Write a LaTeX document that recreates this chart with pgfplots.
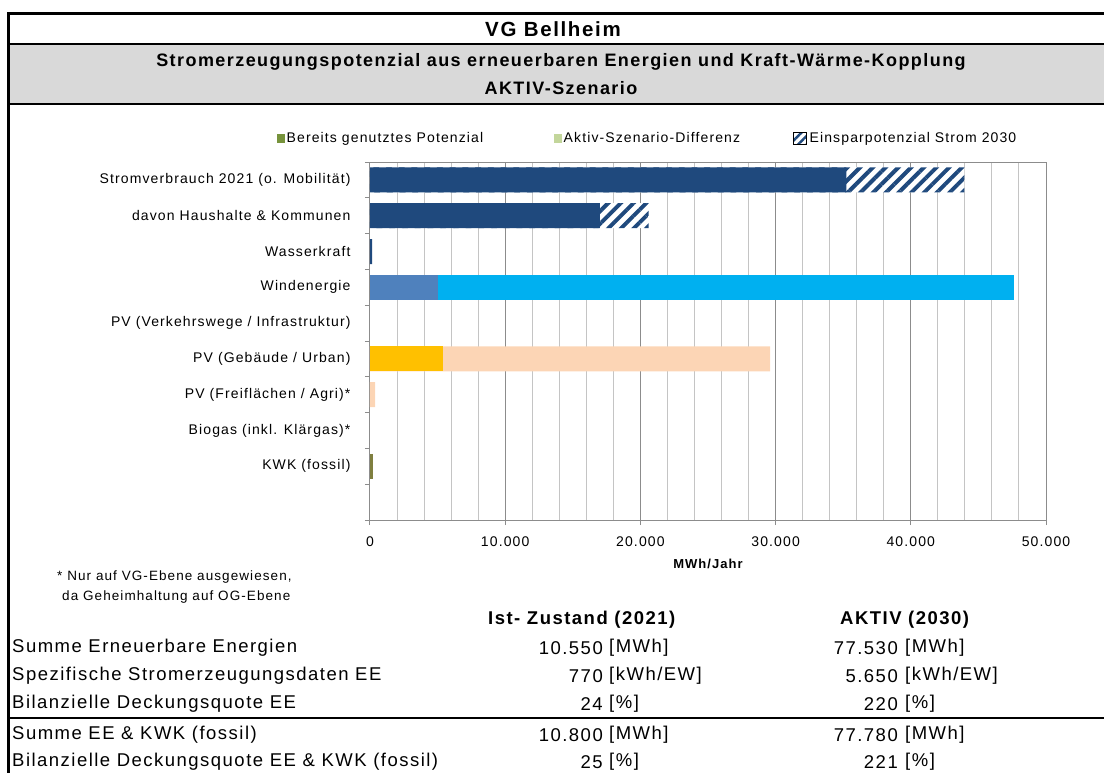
\documentclass[border=0pt]{standalone}
\usepackage{fontspec}
\setmainfont{Liberation Sans}[LetterSpace=8]
\usepackage{pgfplots}
\pgfplotsset{compat=1.18}
\usetikzlibrary{patterns.meta}

\definecolor{strom}{HTML}{1F497D}
\definecolor{windalt}{HTML}{4F81BD}
\definecolor{windneu}{HTML}{00B0F0}
\definecolor{pvalt}{HTML}{FFC000}
\definecolor{pvneu}{HTML}{FCD5B5}
\definecolor{kwk}{HTML}{7F7F3F}
\definecolor{legdunkel}{HTML}{77933C}
\definecolor{leghell}{HTML}{C3D69B}
\definecolor{kopf}{HTML}{D9D9D9}
\definecolor{axgray}{HTML}{8C8C8C}
\definecolor{gridgray}{HTML}{C4C4C4}

\newcommand\fs[1]{\fontsize{#1}{#1}\selectfont}

\begin{document}
\begin{tikzpicture}
\path[use as bounding box] (0,0) rectangle (1104pt,-773pt);

% Rahmen, Kopf und Tabelle (1pt = 1px)
\begin{scope}[x=1pt,y=-1pt]
  \fill[kopf] (8,44) rectangle (1104,104);
  \draw[line width=3pt] (1104,14) -- (8,14) -- (8,773);
  \draw[line width=2.5pt] (8,44) -- (1104,44);
  \draw[line width=2.5pt] (8,104) -- (1104,104);
  \draw[line width=1.8pt] (8,718) -- (1104,718);

  \node[font=\fs{20.5}\bfseries] at (553,29) {VG Bellheim};
  \node[font=\fs{18}\bfseries] at (561,62) {Stromerzeugungspotenzial aus erneuerbaren Energien und Kraft-Wärme-Kopplung};
  \node[font=\fs{18}\bfseries] at (561,88) {AKTIV-Szenario};

  \node[font=\fs{13.5}, anchor=west, inner sep=0] at (57,577) {* Nur auf VG-Ebene ausgewiesen,};
  \node[font=\fs{13.5}, anchor=west, inner sep=0] at (62,597) {da Geheimhaltung auf OG-Ebene};

  \begin{scope}[every node/.style={font=\fs{18.5}, inner sep=0}]
    \node[anchor=west, font=\fs{18.5}\bfseries] at (488,620) {Ist- Zustand (2021)};
    \node[anchor=west, font=\fs{18.5}\bfseries] at (840,620) {AKTIV (2030)};
    \foreach \y/\lab/\ist/\ie/\akt/\ae in {
      648/{Summe Erneuerbare Energien}/{10.550}/{[MWh]}/{77.530}/{[MWh]},
      676/{Spezifische Stromerzeugungsdaten EE}/{770}/{[kWh/EW]}/{5.650}/{[kWh/EW]},
      704/{Bilanzielle Deckungsquote EE}/{24}/{[\%]}/{220}/{[\%]},
      735/{Summe EE \& KWK (fossil)}/{10.800}/{[MWh]}/{77.780}/{[MWh]},
      762/{Bilanzielle Deckungsquote EE \& KWK (fossil)}/{25}/{[\%]}/{221}/{[\%]}} {
      \node[anchor=west] at (12,\y) {\lab};
      \node[anchor=east] at (603,\y) {\ist};
      \node[anchor=west] at (609,\y) {\ie};
      \node[anchor=east] at (898,\y) {\akt};
      \node[anchor=west] at (905,\y) {\ae};
    }
  \end{scope}
\end{scope}

\begin{axis}[
  at={(370pt,-520pt)}, anchor=south west, scale only axis,
  width=676pt, height=358pt,
  xmin=0, xmax=50000, ymin=-0.5, ymax=9.5, y dir=reverse,
  axis line style={draw=axgray, line width=1pt},
  xtick={0,10000,...,50000}, minor x tick num=4,
  xmajorgrids, xminorgrids,
  major grid style={draw=axgray, line width=1pt},
  minor grid style={draw=gridgray, line width=1pt},
  tick align=outside, xtick pos=bottom, ytick pos=left,
  major tick length=5pt, minor tick length=0pt,
  tick style={draw=axgray, line width=1pt},
  scaled x ticks=false,
  xticklabel style={font=\fs{14}, yshift=-8pt},
  ytick={-0.5,0.5,...,9.5}, yticklabels={},
  extra y ticks={0,1,...,8},
  extra y tick labels={
    {Stromverbrauch 2021 (o. Mobilität)},
    {davon Haushalte \& Kommunen},
    {Wasserkraft},
    {Windenergie},
    {PV (Verkehrswege / Infrastruktur)},
    {PV (Gebäude / Urban)},
    {PV (Freiflächen / Agri)*},
    {Biogas (inkl. Klärgas)*},
    {KWK (fossil)}},
  extra y tick style={major tick length=0pt, yticklabel style={font=\fs{14}, xshift=-16pt}},
  xlabel={MWh/Jahr},
  xlabel style={font=\fs{13}\bfseries, at={(axis description cs:0.5,0)}, anchor=center, yshift=-44pt},
  legend columns=3,
  legend style={at={(axis description cs:-0.1376,1.067)}, anchor=west, draw=none, fill=none,
    font=\fs{14}, inner sep=0pt,
    /tikz/column 2/.style={column sep=69pt},
    /tikz/column 4/.style={column sep=50pt}},
  legend image code/.code={\fill[#1, draw=none] (0pt,-4.5pt) rectangle (7.5pt,4.5pt);},
  /pgf/number format/1000 sep={.},
  /pgf/number format/assume math mode=true,
]
% Einsparpotenzial (schraffiert, Gesamtlänge)
\addplot[xbar, bar width=25pt, bar shift=0pt, draw=none, fill=white, forget plot,
  postaction={pattern={Lines[angle=45,distance=9pt,line width=4pt]}, pattern color=strom}]
  coordinates {(43960,0) (20600,1)};
% Stromverbrauch / Wasserkraft
\addplot[xbar, bar width=25pt, bar shift=0pt, draw=none, fill=strom, forget plot]
  coordinates {(35240,0) (17000,1) (150,2)};
% Windenergie: Aktiv-Szenario gesamt, davon bereits genutzt
\addplot[xbar, bar width=25pt, bar shift=0pt, draw=none, fill=windneu, forget plot]
  coordinates {(47600,3)};
\addplot[xbar, bar width=25pt, bar shift=0pt, draw=none, fill=windalt, forget plot]
  coordinates {(5000,3)};
% PV: Aktiv-Szenario gesamt, davon bereits genutzt
\addplot[xbar, bar width=25pt, bar shift=0pt, draw=none, fill=pvneu, forget plot]
  coordinates {(29600,5) (380,6)};
\addplot[xbar, bar width=25pt, bar shift=0pt, draw=none, fill=pvalt, forget plot]
  coordinates {(5400,5)};
% KWK (fossil)
\addplot[xbar, bar width=25pt, bar shift=0pt, draw=none, fill=kwk, forget plot]
  coordinates {(250,8)};

\addlegendimage{fill=legdunkel}
\addlegendentry{Bereits genutztes Potenzial}
\addlegendimage{fill=leghell}
\addlegendentry{Aktiv-Szenario-Differenz}
\addlegendimage{legend image code/.code={
  \fill[white] (0pt,-6pt) rectangle (13pt,6pt);
  \fill[pattern={Lines[angle=45,distance=6pt,line width=2.5pt]}, pattern color=strom] (0pt,-6pt) rectangle (13pt,6pt);}}
\addlegendentry{Einsparpotenzial Strom 2030}
\end{axis}
\end{tikzpicture}
\end{document}
